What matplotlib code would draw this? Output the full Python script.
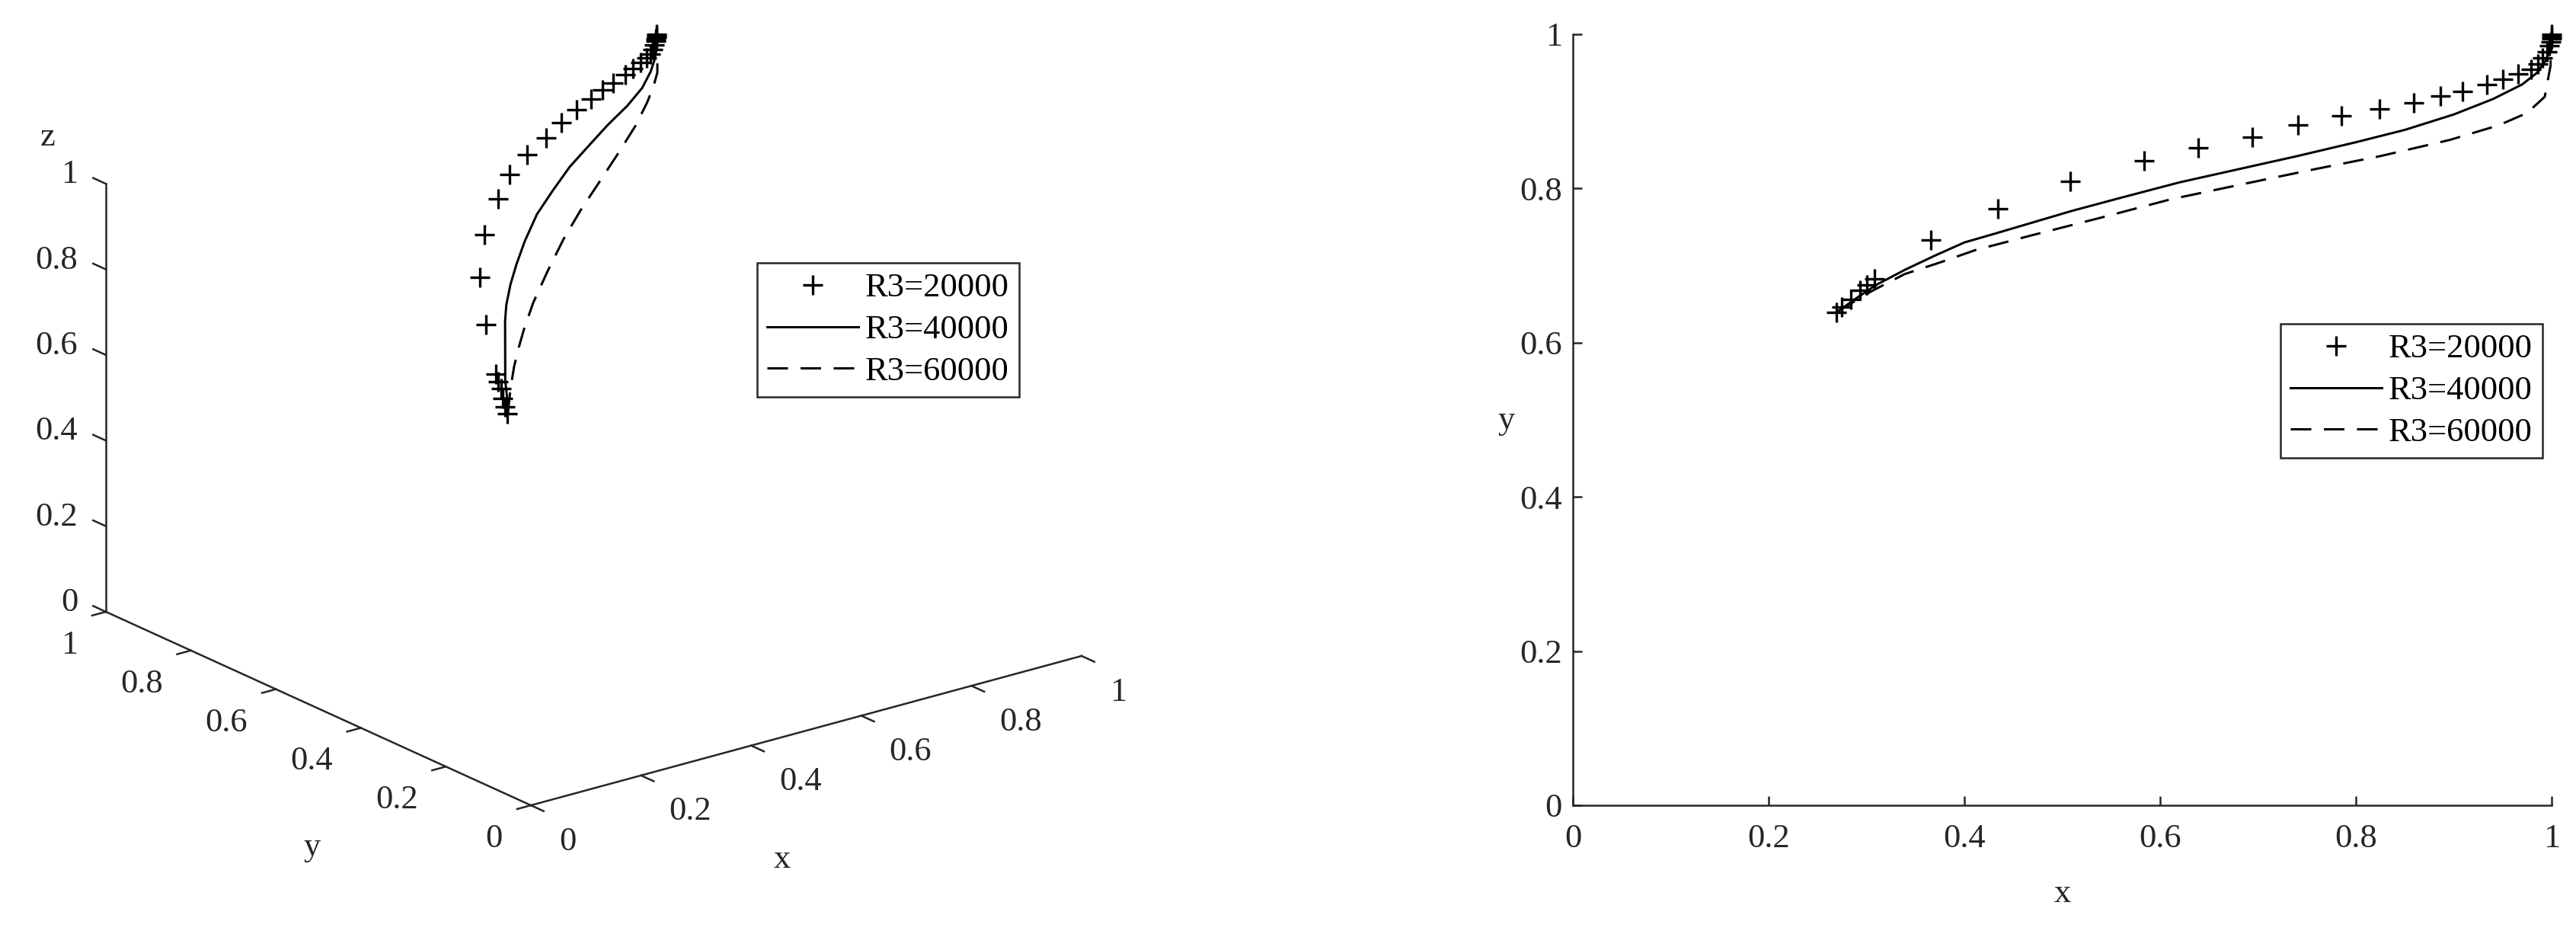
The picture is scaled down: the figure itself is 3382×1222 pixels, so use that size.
import numpy as np
import matplotlib
matplotlib.use("Agg")
import matplotlib.pyplot as plt
from mpl_toolkits.mplot3d import proj3d

plt.rcParams["font.family"] = ["Liberation Serif", "DejaVu Serif"]
plt.rcParams["font.size"] = 16

r20_x = [0.269, 0.275, 0.284, 0.293, 0.300, 0.308, 0.366, 0.434, 0.508, 0.584, 0.639, 0.694, 0.741, 0.785, 0.824,
         0.859, 0.886, 0.909, 0.934, 0.950, 0.966, 0.979, 0.986, 0.991, 0.995, 0.998, 0.999, 1.000, 1.000, 1.000]
r20_y = [0.639, 0.646, 0.656, 0.668, 0.675, 0.683, 0.733, 0.774, 0.809, 0.836, 0.853, 0.867, 0.882, 0.894, 0.903,
         0.911, 0.920, 0.926, 0.935, 0.942, 0.949, 0.955, 0.961, 0.969, 0.977, 0.985, 0.990, 0.994, 0.997, 1.000]
r20_y3 = [0.404, 0.418, 0.434, 0.450, 0.466, 0.482, 0.580, 0.683, 0.768, 0.833, 0.879, 0.908, 0.925, 0.946, 0.961,
          0.972, 0.979, 0.984, 0.988, 0.991, 0.994, 0.996, 0.997, 0.998, 0.999, 1.000, 1.000, 1.000, 1.000, 1.000]

r40_x = [0.270, 0.290, 0.310, 0.340, 0.370, 0.400, 0.430, 0.470, 0.510, 0.560, 0.620, 0.680, 0.740, 0.800, 0.850,
         0.900, 0.940, 0.970, 0.985, 0.995, 1.000]
r40_y = [0.640, 0.658, 0.675, 0.695, 0.713, 0.730, 0.741, 0.756, 0.771, 0.788, 0.808, 0.825, 0.842, 0.860, 0.876,
         0.896, 0.916, 0.935, 0.950, 0.968, 0.998]
r40_y3 = [0.404, 0.432, 0.462, 0.501, 0.540, 0.579, 0.615, 0.657, 0.695, 0.740, 0.789, 0.829, 0.867, 0.897, 0.921,
          0.939, 0.956, 0.975, 0.986, 0.994, 1.000]

r60_x = [0.270, 0.304, 0.339, 0.375, 0.411, 0.468, 0.539, 0.611, 0.682, 0.754, 0.825, 0.896, 0.946, 0.975, 0.993,
         0.999, 1.000]
r60_y = [0.640, 0.666, 0.689, 0.704, 0.720, 0.739, 0.762, 0.786, 0.805, 0.824, 0.842, 0.863, 0.882, 0.898, 0.919,
         0.960, 1.000]
r60_y3 = [0.404, 0.442, 0.479, 0.515, 0.549, 0.601, 0.659, 0.715, 0.767, 0.816, 0.865, 0.914, 0.952, 0.975, 0.989,
          0.997, 1.000]

labels = ["R3=20000", "R3=40000", "R3=60000"]
ticks = [0, 0.2, 0.4, 0.6, 0.8, 1]
tick_text = ["0", "0.2", "0.4", "0.6", "0.8", "1"]

INK = "#262626"
LW = 1.08
AX_LW = 0.9
MS = 9.7
MEW = 1.2
DASH = (9, 5.5)
W_PX, H_PX = 3382, 1222

fig = plt.figure(figsize=(W_PX / 200, H_PX / 200), dpi=200)

# ---------------- 3D panel ----------------
ax3 = fig.add_axes([0.0, 0.0, 0.5, 1.0], projection="3d", proj_type="ortho")
ax3.view_init(elev=20.57, azim=-127.66)
ax3.set_box_aspect((1, 1, 0.657))
ax3.set_axis_off()
ax3.patch.set_facecolor("none")

h1, = ax3.plot(r20_x, r20_y3, r20_y, "+", color="k", ms=MS, mew=MEW, label=labels[0])
h2, = ax3.plot(r40_x, r40_y3, r40_y, "-", color="k", lw=LW, label=labels[1])
h3, = ax3.plot(r60_x, r60_y3, r60_y, "--", color="k", lw=LW, dashes=DASH, label=labels[2])

ax3.set_xlim(0, 1)
ax3.set_ylim(0, 1)
ax3.set_zlim(0, 1)


def label3d(ax, x, y, z, s, **kw):
    # project once, then place as an ordinary 2D text in the axes' own projected coordinates
    xs, ys, _ = proj3d.proj_transform(np.atleast_1d(x), np.atleast_1d(y), np.atleast_1d(z), ax.get_proj())
    return ax.text2D(xs[0], ys[0], s, transform=ax.transData, color=INK, **kw)


# MATLAB-like open frame: x and y along the floor, z standing at (0, 1)
frame = dict(color=INK, lw=AX_LW)
ax3.plot([0, 1], [0, 0], [0, 0], **frame)
ax3.plot([0, 0], [0, 1], [0, 0], **frame)
ax3.plot([0, 0], [1, 1], [0, 1], **frame)
for t, s in zip(ticks, tick_text):
    ax3.plot([t, t], [0, -0.03], [0, 0], **frame)
    ax3.plot([0, -0.025], [t, t], [0, 0], **frame)
    ax3.plot([0, 0], [1, 1.03], [t, t], **frame)
    label3d(ax3, t, -0.066, -0.055, s, ha="left", va="center")
    label3d(ax3, -0.051, t, -0.0605, s, ha="right", va="center")
    label3d(ax3, 0, 1.066, t - 0.0085, s, ha="right", va="center")
label3d(ax3, 0.456, 0, -0.285, "x", ha="center", va="center")
label3d(ax3, 0, 0.516, -0.331, "y", ha="center", va="center")
label3d(ax3, 0, 1.136, 1.047, "z", ha="center", va="center")


def corner_pixels(ax):
    pts = np.array([[0, 0, 0], [1, 0, 0], [0, 1, 0]], float)
    xs, ys, _ = proj3d.proj_transform(pts[:, 0], pts[:, 1], pts[:, 2], ax.get_proj())
    return ax.transData.transform(np.column_stack([xs, ys]))


# fit the 3D box onto the reference corners (origin, x=1 end, y=1 end), pixel coords from bottom
target = np.array([[697, H_PX - 1057], [1420, H_PX - 861], [139, H_PX - 803]], float)
for _ in range(2):
    fig.canvas.draw()
    p = corner_pixels(ax3)
    s = np.linalg.norm(target[1] - target[2]) / np.linalg.norm(p[1] - p[2])
    bb = ax3.get_position()
    c = np.array([(bb.x0 + bb.x1) / 2 * W_PX, (bb.y0 + bb.y1) / 2 * H_PX])
    side = bb.width * W_PX * s
    nc = target.mean(axis=0) - s * (p.mean(axis=0) - c)
    ax3.set_position([(nc[0] - side / 2) / W_PX, (nc[1] - side / 2) / H_PX, side / W_PX, side / H_PX])

leg_kw = dict(loc="upper left", bbox_transform=fig.transFigure, borderaxespad=0, frameon=True, fancybox=False,
              framealpha=1, edgecolor=INK, handlelength=2.7, handletextpad=0.18, borderpad=0.3,
              labelspacing=0.33, numpoints=1, fontsize=16)
leg3 = ax3.legend(handles=[h1, h2, h3], bbox_to_anchor=(994 / W_PX, 1 - 345 / H_PX), **leg_kw)
leg3.get_frame().set_linewidth(AX_LW)

# ---------------- 2D panel ----------------
ax2 = fig.add_axes([2065 / W_PX, 1 - 1057 / H_PX, 1285 / W_PX, 1012 / H_PX])
g1, = ax2.plot(r20_x, r20_y, "+", color="k", ms=MS, mew=MEW, clip_on=False, label=labels[0])
g2, = ax2.plot(r40_x, r40_y, "-", color="k", lw=LW, label=labels[1])
g3, = ax2.plot(r60_x, r60_y, "--", color="k", lw=LW, dashes=DASH, label=labels[2])
ax2.set_xlim(0, 1)
ax2.set_ylim(0, 1)
ax2.set_xticks(ticks, tick_text)
ax2.set_yticks(ticks, tick_text)
for side_name in ("top", "right"):
    ax2.spines[side_name].set_visible(False)
for side_name in ("left", "bottom"):
    ax2.spines[side_name].set_color(INK)
    ax2.spines[side_name].set_linewidth(AX_LW)
ax2.tick_params(direction="in", length=4.3, width=AX_LW, colors=INK, labelsize=16)
ax2.tick_params(axis="x", pad=8.5)
ax2.tick_params(axis="y", pad=5)
ax2.set_xlabel("x", color=INK, va="center")
ax2.xaxis.set_label_coords(0.5, -0.1146)
ax2.set_ylabel("y", color=INK, rotation=0, ha="center", va="center")
ax2.yaxis.set_label_coords(-0.0677, 0.499)

leg2 = ax2.legend(handles=[g1, g2, g3], bbox_to_anchor=(2994 / W_PX, 1 - 425 / H_PX), **leg_kw)
leg2.get_frame().set_linewidth(AX_LW)

fig.savefig("out.png", dpi=200)
plt.close(fig)
